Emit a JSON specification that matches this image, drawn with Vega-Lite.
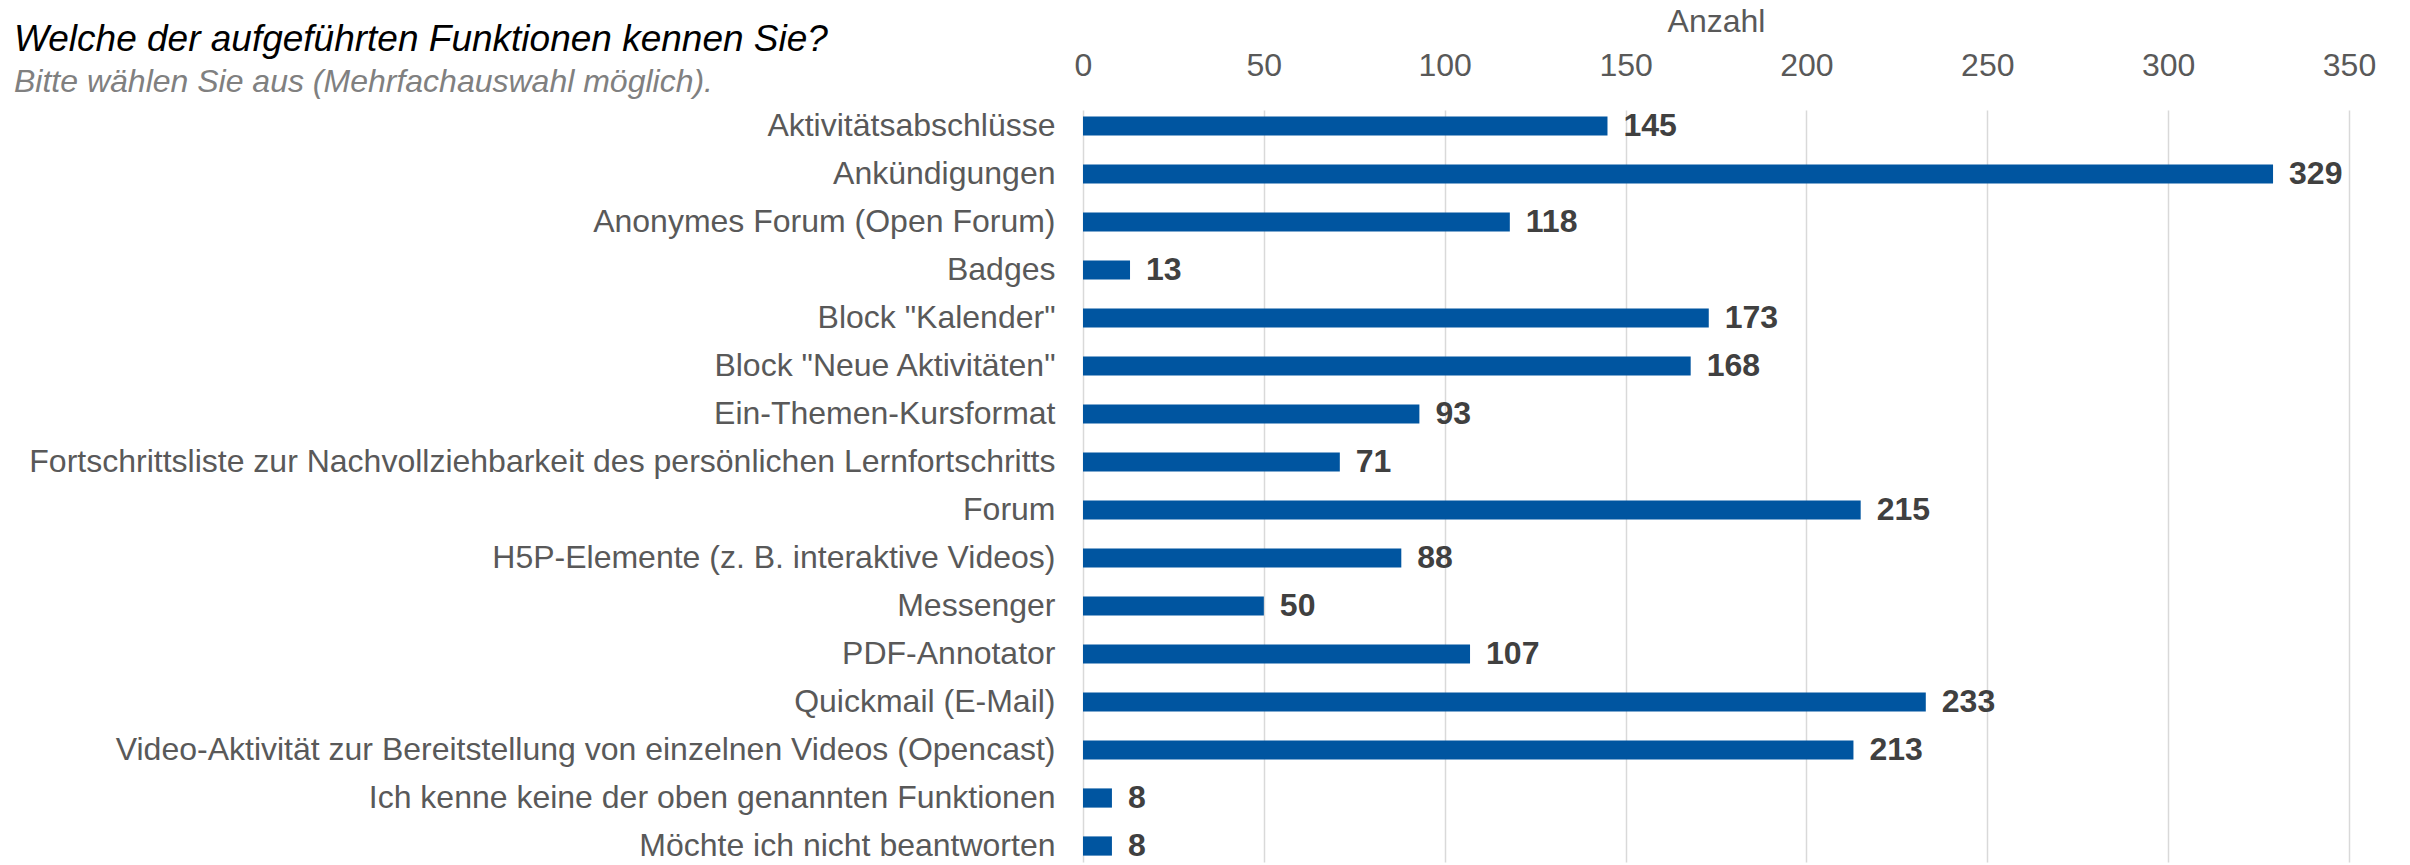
{
  "$schema": "https://vega.github.io/schema/vega-lite/v6.json",
  "autosize": {"type": "none"},
  "width": 1266,
  "height": 752,
  "padding": {"left": 1083, "top": 110, "right": 61, "bottom": 3},
  "background": "white",
  "config": {
    "font": "Liberation Sans",
    "view": {"stroke": null}
  },
  "title": {
    "text": "Welche der aufgeführten Funktionen kennen Sie?",
    "subtitle": "Bitte wählen Sie aus (Mehrfachauswahl möglich).",
    "anchor": "start",
    "frame": "group",
    "dx": -1069,
    "offset": -94,
    "font": "Liberation Sans",
    "fontSize": 37,
    "fontStyle": "italic",
    "fontWeight": "normal",
    "color": "#000000",
    "subtitleFont": "Liberation Sans",
    "subtitleFontSize": 32,
    "subtitleFontStyle": "italic",
    "subtitleColor": "#808080",
    "subtitlePadding": 8
  },
  "data": {
    "values": [
      {"Funktion": "Aktivitätsabschlüsse", "Anzahl": 145},
      {"Funktion": "Ankündigungen", "Anzahl": 329},
      {"Funktion": "Anonymes Forum (Open Forum)", "Anzahl": 118},
      {"Funktion": "Badges ", "Anzahl": 13},
      {"Funktion": "Block \"Kalender\"", "Anzahl": 173},
      {"Funktion": "Block \"Neue Aktivitäten\"", "Anzahl": 168},
      {"Funktion": "Ein-Themen-Kursformat ", "Anzahl": 93},
      {"Funktion": "Fortschrittsliste zur Nachvollziehbarkeit des persönlichen Lernfortschritts", "Anzahl": 71},
      {"Funktion": "Forum", "Anzahl": 215},
      {"Funktion": "H5P-Elemente (z. B. interaktive Videos)", "Anzahl": 88},
      {"Funktion": "Messenger", "Anzahl": 50},
      {"Funktion": "PDF-Annotator", "Anzahl": 107},
      {"Funktion": "Quickmail (E-Mail)", "Anzahl": 233},
      {"Funktion": "Video-Aktivität zur Bereitstellung von einzelnen Videos (Opencast)", "Anzahl": 213},
      {"Funktion": "Ich kenne keine der oben genannten Funktionen", "Anzahl": 8},
      {"Funktion": "Möchte ich nicht beantworten", "Anzahl": 8}
    ]
  },
  "encoding": {
    "y": {
      "field": "Funktion",
      "type": "nominal",
      "sort": null,
      "scale": {"paddingInner": 0.6, "paddingOuter": 0.133},
      "axis": {
        "title": null,
        "domain": false,
        "ticks": false,
        "labelPadding": 28,
        "labelFontSize": 32,
        "labelColor": "#595959",
        "labelLimit": 0
      }
    },
    "x": {
      "field": "Anzahl",
      "type": "quantitative",
      "scale": {"domain": [0, 350], "nice": false},
      "axis": {
        "orient": "top",
        "title": "Anzahl",
        "titleFontSize": 32,
        "titleFontWeight": "normal",
        "titleColor": "#595959",
        "titlePadding": 11,
        "values": [0, 50, 100, 150, 200, 250, 300, 350],
        "labelFontSize": 32,
        "labelColor": "#595959",
        "labelPadding": 28,
        "labelFlush": false,
        "domain": false,
        "ticks": false,
        "grid": true,
        "gridColor": "#d9d9d9",
        "gridWidth": 1.5
      }
    }
  },
  "layer": [
    {"mark": {"type": "bar", "color": "#0055a0"}},
    {
      "mark": {
        "type": "text",
        "align": "left",
        "baseline": "middle",
        "dx": 16,
        "fontSize": 32,
        "fontWeight": "bold",
        "color": "#404040"
      },
      "encoding": {"text": {"field": "Anzahl", "type": "quantitative"}}
    }
  ]
}
